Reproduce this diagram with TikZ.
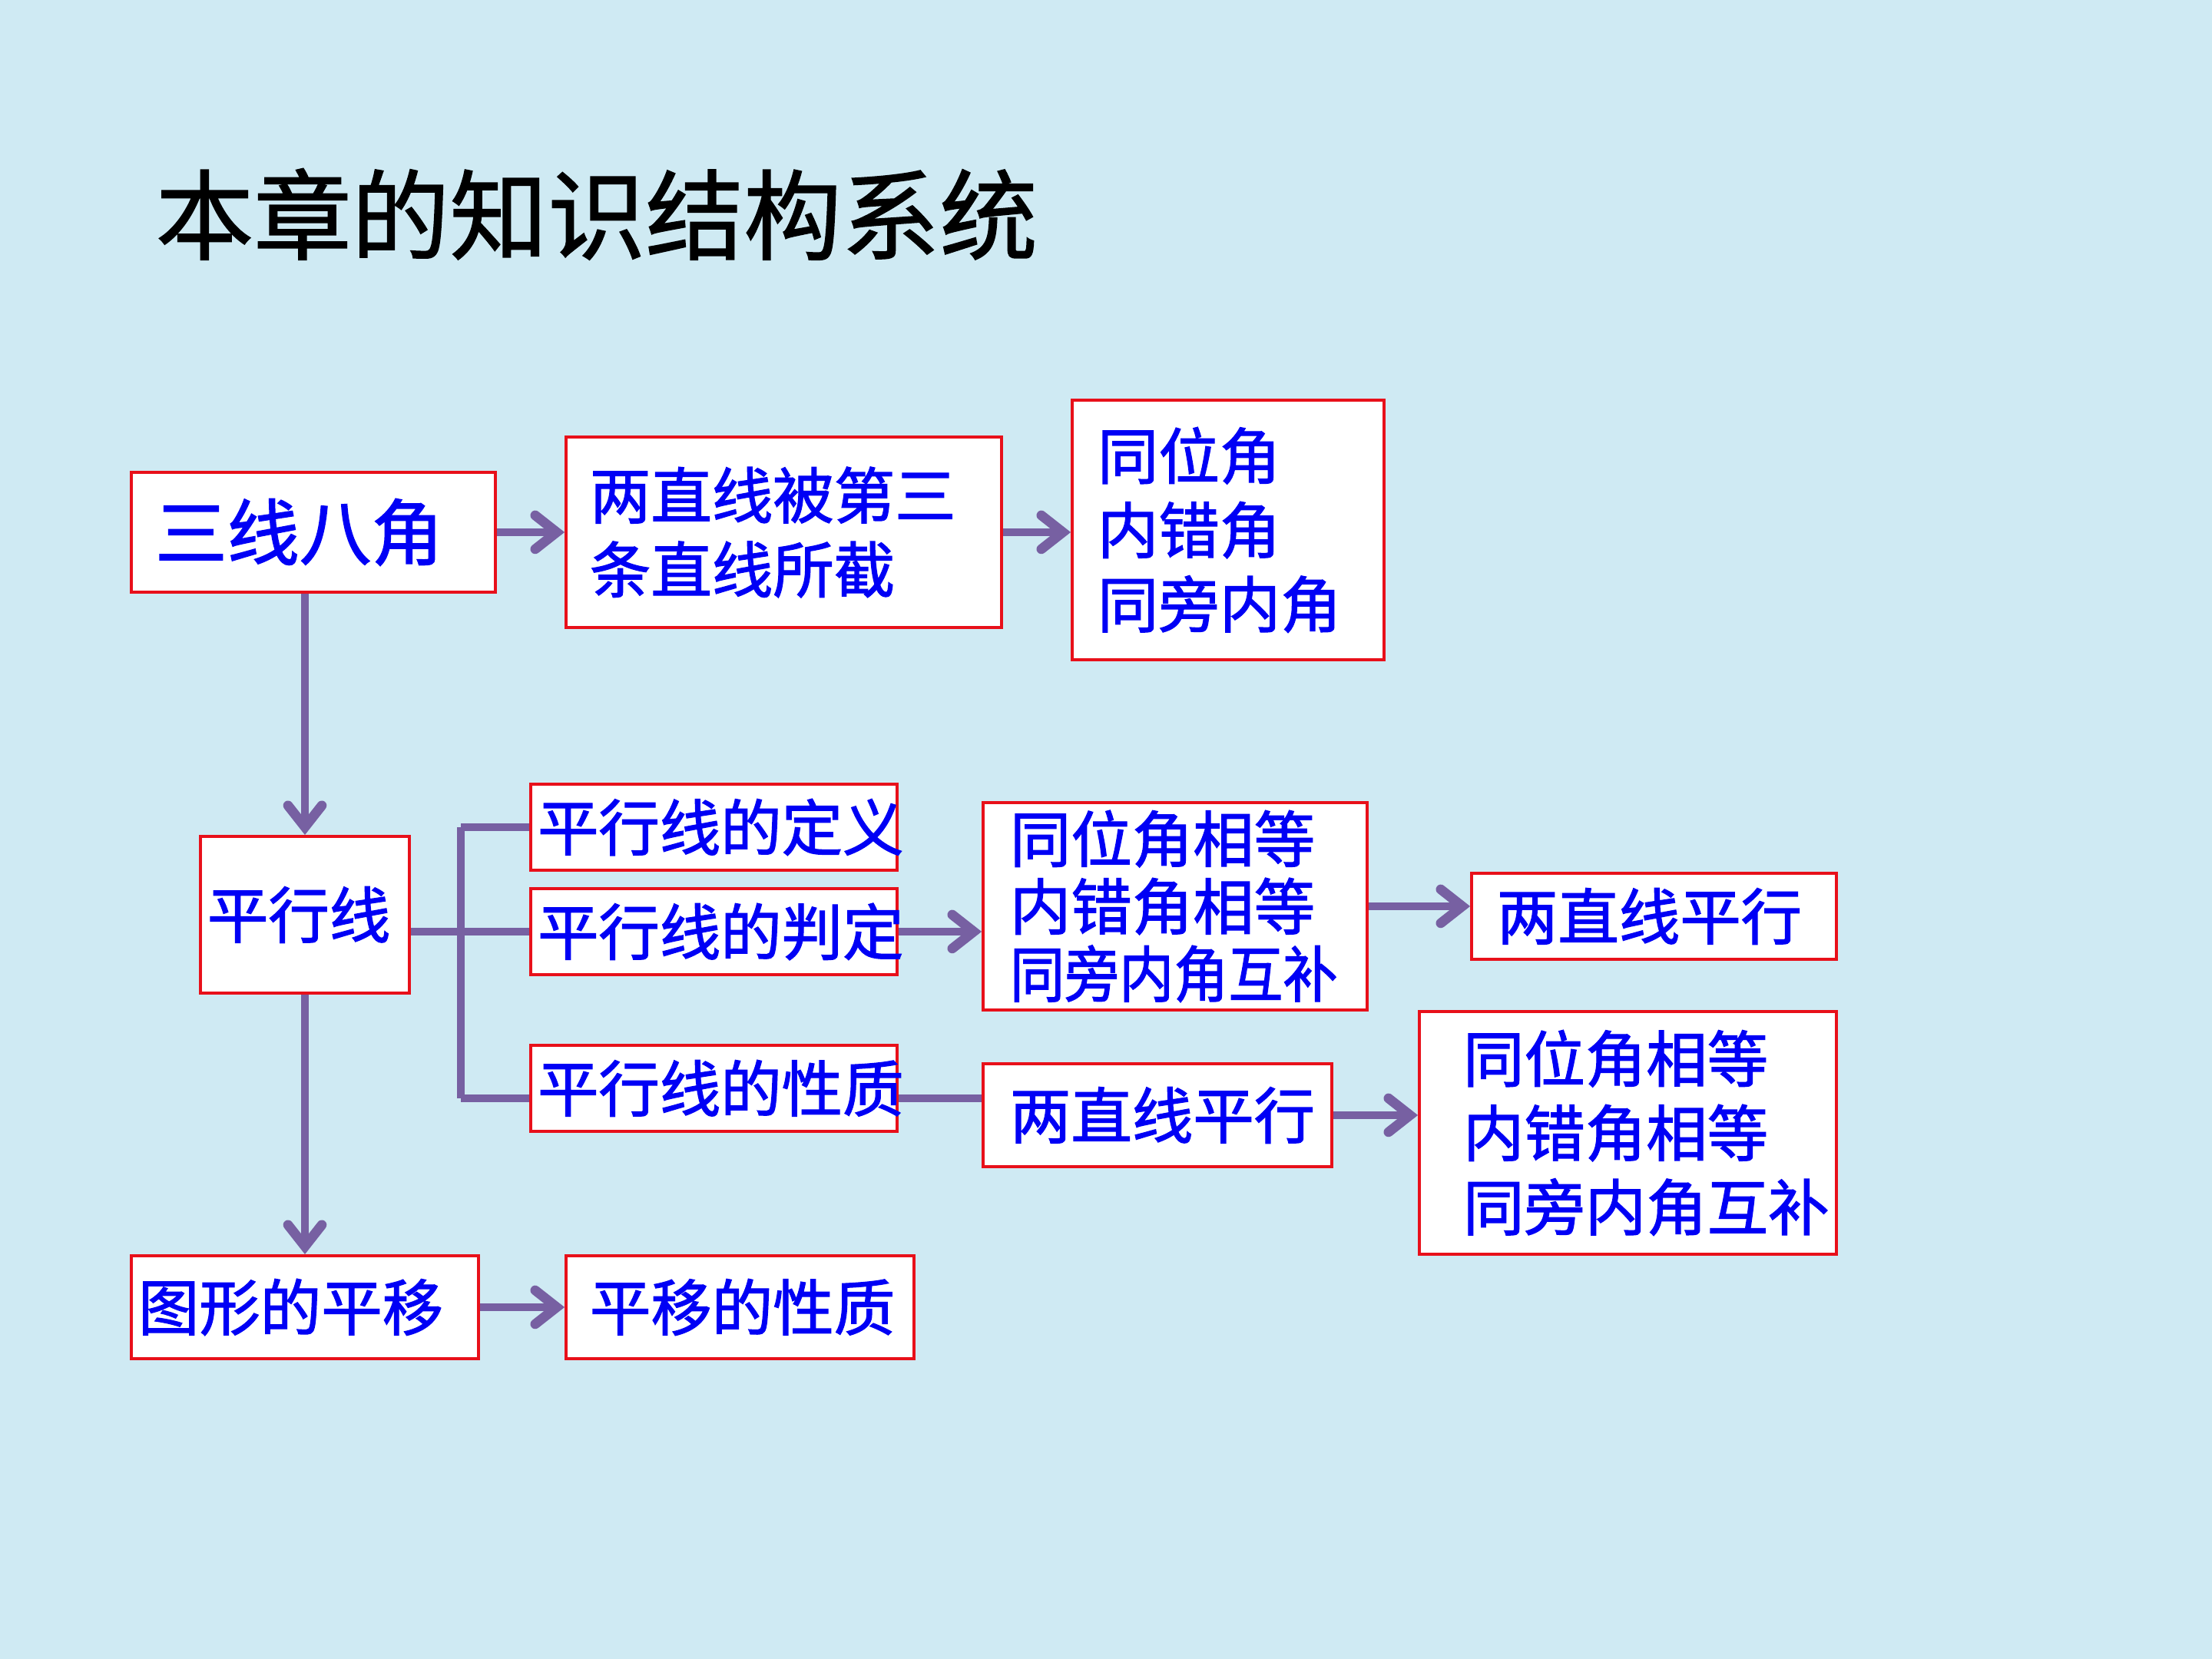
\documentclass[tikz,border=0pt]{standalone}
\usepackage{fontspec}
\usepackage{tikz}
\usepackage{xcolor}
\usetikzlibrary{arrows.meta,positioning,calc}
\newfontfamily\cjk[FakeBold=1.6]{Noto Sans CJK SC}
\newfontfamily\cjktitle[FakeBold=1.2]{Noto Sans CJK SC}
\definecolor{slidebg}{HTML}{CFEAF3}
\definecolor{boxred}{HTML}{E8101A}
\definecolor{textblue}{HTML}{0000F5}
\definecolor{linkpurple}{HTML}{7760A2}
\tikzset{
  chartbox/.style={draw=boxred,fill=white,line width=1.1pt,
                   align=left,inner ysep=0pt,text=textblue,
                   font=\cjk\fontsize{22.6pt}{27.5pt}\selectfont},
  titletext/.style={font=\cjktitle\fontsize{36.3pt}{40pt}\selectfont,text=black,inner sep=0pt},
  linkline/.style={draw=linkpurple,line width=3pt},
  flowarr/.style={linkline,-{Straight Barb[length=2.8mm,width=4.4mm,line width=3.6pt,line cap=round]}}
}

\begin{document}
\begin{tikzpicture}[x=1cm,y=1cm]
  \fill[slidebg] (0,0) rectangle (28.8,21.6);
  \useasboundingbox (0,0) rectangle (28.8,21.6);

  \node[titletext,anchor=west] (title) at (2.02,18.81) {本章的知识结构系统};

  % upper row
  \node[chartbox,text width=4.12cm,inner xsep=0.31cm,minimum height=1.56cm,
        font=\cjk\fontsize{26.7pt}{30pt}\selectfont] (sxbj) at (4.08,14.67) {三线八角};
  \node[chartbox,text width=5.05cm,inner xsep=0.31cm,minimum height=2.48cm] (jiezhi) at (10.205,14.67) {两直线被第三\\条直线所截};
  \node[chartbox,text width=3.40cm,inner xsep=0.33cm,minimum height=3.38cm] (sanjiao) at (15.99,14.70) {同位角\\内错角\\同旁内角};

  % parallel lines
  \node[chartbox,text width=2.54cm,inner xsep=0.09cm,minimum height=2.04cm] (pxx) at (3.97,9.69) {平行线};
  \node[chartbox,text width=4.59cm,inner xsep=0.09cm,minimum height=1.12cm] (dingyi) at (9.295,10.83) {平行线的定义};
  \node[chartbox,text width=4.59cm,inner xsep=0.09cm,minimum height=1.12cm] (panding) at (9.295,9.47) {平行线的判定};
  \node[chartbox,text width=4.59cm,inner xsep=0.09cm,minimum height=1.12cm] (xingzhi) at (9.295,7.43) {平行线的性质};
  \node[chartbox,text width=4.30cm,inner xsep=0.35cm,minimum height=2.70cm,
        font=\cjk\fontsize{22.6pt}{25pt}\selectfont] (tiaojian) at (15.30,9.80) {同位角相等\\内错角相等\\\scalebox{0.895}[1]{同旁内角互补}};
  \node[chartbox,text width=4.09cm,inner xsep=0.33cm,minimum height=1.12cm] (pxA) at (21.535,9.67) {两直线平行};
  \node[chartbox,text width=3.84cm,inner xsep=0.35cm,minimum height=1.34cm] (pxB) at (15.07,7.08) {两直线平行};
  \node[chartbox,text width=4.29cm,inner xsep=0.57cm,minimum height=3.16cm] (jielun) at (21.195,6.85) {同位角相等\\内错角相等\\同旁内角互补};

  % translation
  \node[chartbox,text width=4.34cm,inner xsep=0.09cm,minimum height=1.34cm] (pingyi) at (3.97,4.58) {图形的平移};
  \node[chartbox,text width=3.91cm,inner xsep=0.31cm,minimum height=1.34cm] (pyxz) at (9.635,4.58) {平移的性质};

  \coordinate (trunk) at (6.00,7.30);

  \draw[flowarr] (sxbj) -- (jiezhi);
  \draw[flowarr] (jiezhi.east) -- (jiezhi.east -| sanjiao.west);
  \draw[flowarr] (sxbj.south -| pxx.north) -- (pxx.north);
  \draw[flowarr] (pxx.south) -- (pingyi.north);
  \draw[flowarr] (pingyi) -- (pyxz);

  \draw[linkline] (pxx.east |- panding.west) -- (panding.west);
  \draw[linkline] (dingyi.west -| trunk) -- (trunk);
  \draw[linkline] (dingyi.west -| trunk) -- (dingyi.west);
  \draw[linkline] (trunk) -- (trunk -| xingzhi.west);
  \draw[linkline] (xingzhi.east |- trunk) -- (pxB.west |- trunk);

  \draw[flowarr] (panding.east) -- (panding.east -| tiaojian.west);
  \draw[flowarr] (tiaojian.east) -- (tiaojian.east -| pxA.west);
  \draw[flowarr] (pxB.east) -- (pxB.east -| jielun.west);
\end{tikzpicture}
\end{document}
